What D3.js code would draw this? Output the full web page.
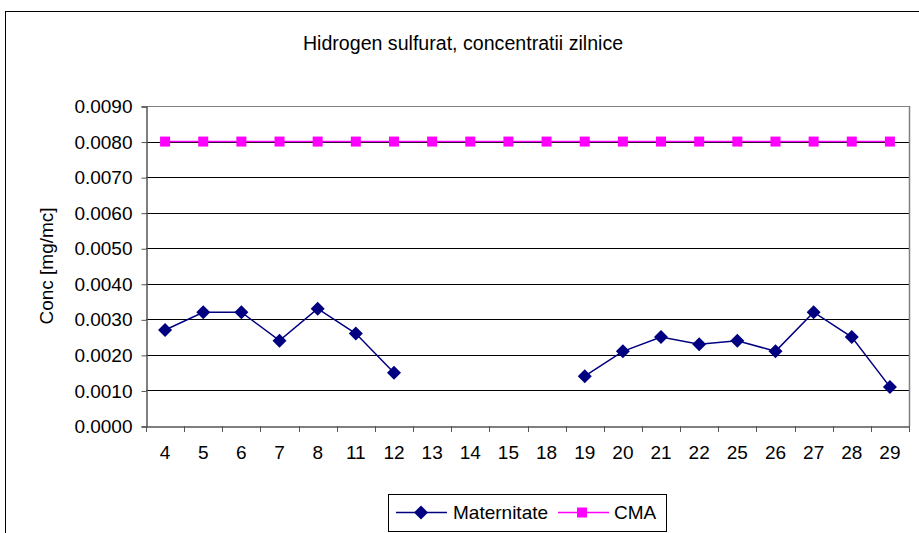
<!DOCTYPE html>
<html><head><meta charset="utf-8">
<script src="https://cdn.jsdelivr.net/npm/d3@7"></script>
<style>
body{margin:0;background:#fff;}
text{font-family:"Liberation Sans",Arial,sans-serif;fill:#000;}
</style></head>
<body>
<svg id="c" width="919" height="533"></svg>
<script>
const categories = ["4","5","6","7","8","11","12","13","14","15","18","19","20","21","22","25","26","27","28","29"];
const maternitate = [0.0027,0.0032,0.0032,0.0024,0.0033,0.0026,0.0015,null,null,null,null,0.0014,0.0021,0.0025,0.0023,0.0024,0.0021,0.0032,0.0025,0.0011];
const cma = [0.008,0.008,0.008,0.008,0.008,0.008,0.008,0.008,0.008,0.008,0.008,0.008,0.008,0.008,0.008,0.008,0.008,0.008,0.008,0.008];
const yTicks = [0,0.001,0.002,0.003,0.004,0.005,0.006,0.007,0.008,0.009];
const title = "Hidrogen sulfurat, concentratii zilnice";
const yTitle = "Conc [mg/mc]";
const seriesNames = ["Maternitate","CMA"];

const svg = d3.select("#c");
const FS = 19;
const L = 146, R = 909, T = 106, B = 426;

// chart area border
svg.append("rect").attr("x",5.5).attr("y",11.5).attr("width",1000).attr("height",1000)
  .attr("fill","none").attr("stroke","#000").attr("stroke-width",1);

svg.append("text").attr("x",463).attr("y",50).attr("text-anchor","middle")
  .style("font-size","19.6px").text(title);

const x = d3.scaleBand().domain(categories).range([L,R]).padding(0);
const y = d3.scaleLinear().domain([0,0.009]).range([B,T]);

// gridlines
svg.append("g").selectAll("line").data(yTicks.filter(d=>d>0)).join("line")
  .attr("x1",L).attr("x2",R)
  .attr("y1",d=>Math.round(y(d))+0.5).attr("y2",d=>Math.round(y(d))+0.5)
  .attr("stroke",d=>d===0.009?"#808080":"#000").attr("stroke-width",1);
// right border of plot
svg.append("line").attr("x1",R+0.5).attr("x2",R+0.5).attr("y1",T).attr("y2",B)
  .attr("stroke","#808080").attr("stroke-width",1.5);

// y axis
const yAxis = d3.axisLeft(y).tickValues(yTicks).tickFormat(d3.format(".4f")).tickSize(5).tickPadding(9);
const gy = svg.append("g").attr("transform",`translate(${L+0.5},0.5)`).call(yAxis);
gy.select(".domain").attr("stroke","#555").attr("stroke-width",1.5);
gy.selectAll(".tick line").attr("stroke","#555");
gy.selectAll("text").style("font-size",FS+"px").style("font-family","'Liberation Sans',Arial,sans-serif").attr("fill","#000");

// x axis
const xAxis = d3.axisBottom(x).tickSize(0).tickPadding(19);
const gx = svg.append("g").attr("transform",`translate(0,${B+0.5})`).call(xAxis);
gx.select(".domain").attr("stroke","#555").attr("stroke-width",1.5);
gx.selectAll("text").style("font-size",FS+"px").style("font-family","'Liberation Sans',Arial,sans-serif").attr("fill","#000");
// x ticks between categories
const bounds = categories.map(c=>x(c)).concat([x(categories[categories.length-1])+x.bandwidth()]);
svg.append("g").selectAll("line").data(bounds).join("line")
  .attr("x1",d=>Math.round(d)+0.5).attr("x2",d=>Math.round(d)+0.5)
  .attr("y1",B).attr("y2",B+6).attr("stroke","#555").attr("stroke-width",1);

// y title
svg.append("text").attr("transform",`translate(53,${(T+B)/2}) rotate(-90)`)
  .attr("text-anchor","middle").style("font-size",FS+"px").text(yTitle);

const cx = c => x(c)+x.bandwidth()/2;
const NAVY = "#000080", MAG = "#FF00FF";

// CMA
const line = d3.line().defined(d=>d.v!==null).x(d=>cx(d.c)).y(d=>y(d.v));
const cmaData = categories.map((c,i)=>({c,v:cma[i]}));
const matData = categories.map((c,i)=>({c,v:maternitate[i]}));
svg.append("path").datum(cmaData).attr("d",line).attr("fill","none").attr("stroke",MAG).attr("stroke-width",1.5);
svg.append("g").selectAll("rect").data(cmaData).join("rect")
  .attr("x",d=>cx(d.c)-5).attr("y",d=>y(d.v)-5).attr("width",10).attr("height",10).attr("fill",MAG);

svg.append("path").datum(matData).attr("d",line).attr("fill","none").attr("stroke",NAVY).attr("stroke-width",1.5);
const diamond = "M0,-7L7,0L0,7L-7,0Z";
svg.append("g").selectAll("path").data(matData.filter(d=>d.v!==null)).join("path")
  .attr("transform",d=>`translate(${cx(d.c)},${y(d.v)})`).attr("d",diamond).attr("fill",NAVY);

// legend
const lg = svg.append("g");
lg.append("rect").attr("x",388.5).attr("y",494.5).attr("width",278).attr("height",37)
  .attr("fill","#fff").attr("stroke","#000").attr("stroke-width",1);
lg.append("line").attr("x1",396).attr("x2",447).attr("y1",512.5).attr("y2",512.5).attr("stroke",NAVY).attr("stroke-width",1.5);
lg.append("path").attr("transform","translate(421,512.5)").attr("d",diamond).attr("fill",NAVY);
lg.append("text").attr("x",453).attr("y",519).style("font-size",FS+"px").text(seriesNames[0]);
lg.append("line").attr("x1",558).attr("x2",609).attr("y1",512.5).attr("y2",512.5).attr("stroke",MAG).attr("stroke-width",1.5);
lg.append("rect").attr("x",577).attr("y",507.5).attr("width",10).attr("height",10).attr("fill",MAG);
lg.append("text").attr("x",614).attr("y",519).style("font-size",FS+"px").text(seriesNames[1]);
</script>
</body></html>
